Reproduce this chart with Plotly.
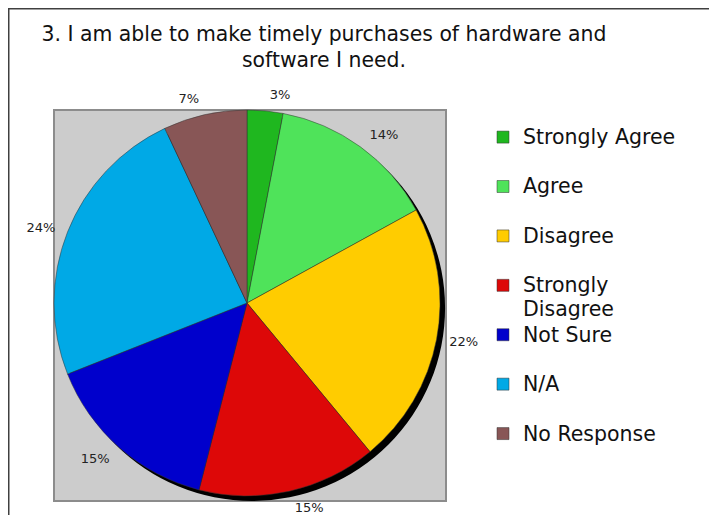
import plotly.graph_objects as go

W, H = 717, 515

categories = ["Strongly Agree", "Agree", "Disagree", "Strongly Disagree",
              "Not Sure", "N/A", "No Response"]
percentages = [3, 14, 22, 15, 15, 24, 7]
colors = ["#1fb71f", "#4fe35a", "#ffcc00", "#dd0808", "#0000cc", "#00a9e6", "#885656"]
title_text = "3. I am able to make timely purchases of hardware and<br>software I need."

FONT = "DejaVu Sans, Verdana, sans-serif"

# legend labels: two-line entries so every entry has the same height
legend_labels = []
for c in categories:
    if c == "Strongly Disagree":
        txt = "<span style='font-size:20.5px'>Strongly</span><br><span style='font-size:20.5px'>Disagree</span>"
    else:
        txt = f"<span style='font-size:20.5px'>{c}</span><br> "
    legend_labels.append(txt)

# the page is drawn with an 8px body margin; positions below are figure px
def px_x(v):
    return v / W

def px_y(v):
    return (H - v) / H

cx, cy, r = 239, 295, 193
shadow_off = 5
r_text = 202

fig = go.Figure()

# shadow disc
fig.add_trace(go.Pie(
    values=[sum(percentages)], labels=["shadow"],
    marker=dict(colors=["#000000"], line=dict(width=0)),
    textinfo="none", hoverinfo="skip", showlegend=False, sort=False,
    domain=dict(x=[px_x(cx - r + shadow_off), px_x(cx + r + shadow_off)],
                y=[px_y(cy + r + shadow_off), px_y(cy - r + shadow_off)]),
))

# main pie
fig.add_trace(go.Pie(
    labels=legend_labels, values=percentages,
    textinfo="none",
    marker=dict(colors=colors, line=dict(width=0.5, color="#333333")),
    sort=False, direction="clockwise", rotation=0,
    hoverinfo="percent",
    domain=dict(x=[px_x(cx - r), px_x(cx + r)],
                y=[px_y(cy + r), px_y(cy - r)]),
))

# invisible slightly larger pie carrying the outside percentage labels
fig.add_trace(go.Pie(
    labels=["lbl " + c for c in categories], values=percentages,
    text=[f"{p}%" for p in percentages],
    texttemplate="%{text}",
    textposition="outside",
    outsidetextfont=dict(family=FONT, size=13, color="#222222"),
    marker=dict(colors=["rgba(0,0,0,0)"] * len(categories), line=dict(width=0)),
    sort=False, direction="clockwise", rotation=0,
    hoverinfo="skip", showlegend=False,
    domain=dict(x=[px_x(cx - r_text), px_x(cx + r_text)],
                y=[px_y(cy + r_text), px_y(cy - r_text)]),
))

fig.update_layout(
    width=W, height=H, autosize=False,
    margin=dict(l=0, r=0, t=0, b=0),
    paper_bgcolor="white",
    font=dict(family=FONT, color="#111111"),
    title=dict(text=title_text, x=px_x(316), xanchor="center",
               yref="container", y=px_y(32.5), yanchor="middle",
               font=dict(family=FONT, size=20.4, color="#111111")),
    legend=dict(x=px_x(475), xanchor="left", y=px_y(111), yanchor="top",
                font=dict(family=FONT, size=17.85, color="#111111"),
                bgcolor="rgba(0,0,0,0)", valign="top", traceorder="normal"),
    shapes=[
        dict(type="rect", xref="paper", yref="paper",
             x0=px_x(0.5), x1=1.1, y0=-0.1, y1=px_y(0.5),
             line=dict(color="#404040", width=2), fillcolor="rgba(0,0,0,0)",
             layer="below"),
        dict(type="rect", xref="paper", yref="paper",
             x0=px_x(46), x1=px_x(438), y0=px_y(493), y1=px_y(102),
             line=dict(color="#8c8c8c", width=2), fillcolor="#cccccc",
             layer="below"),
    ],
)

fig.write_html("out.html")
